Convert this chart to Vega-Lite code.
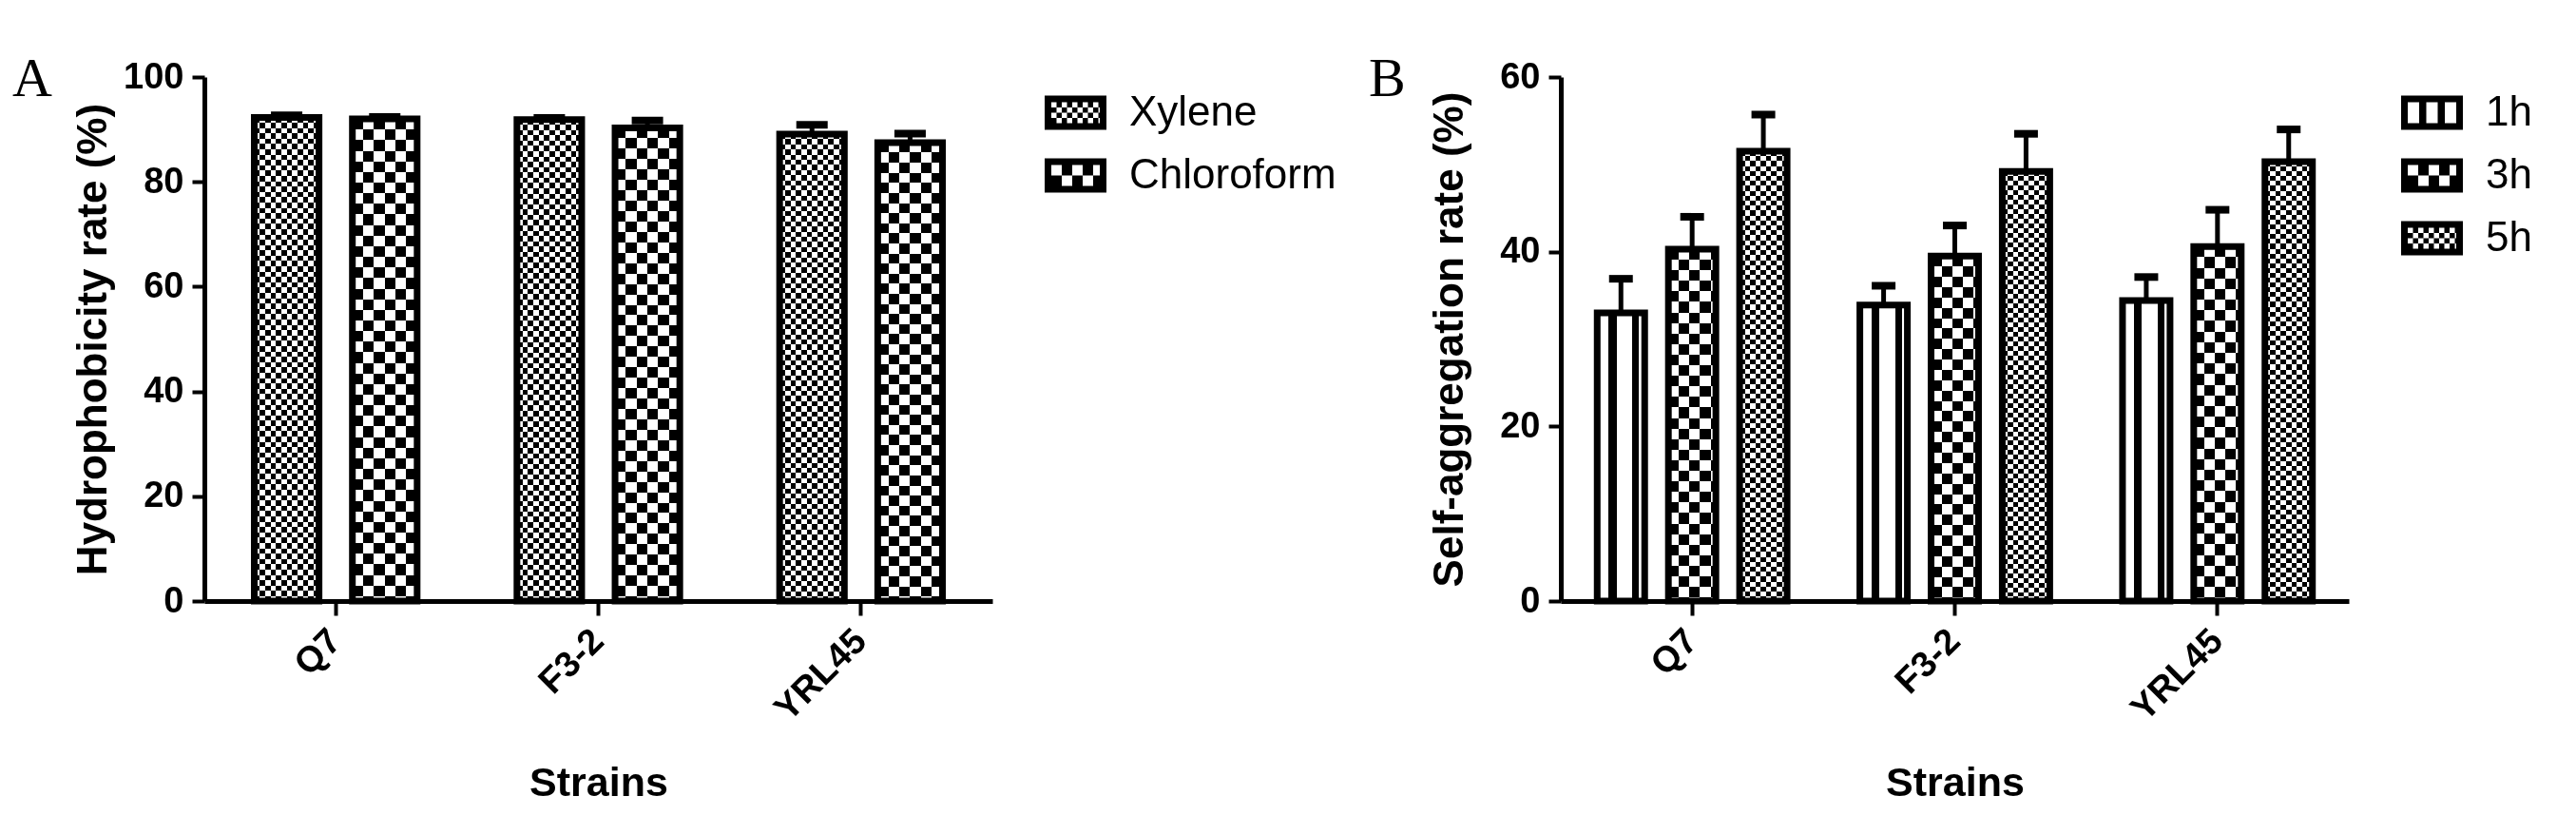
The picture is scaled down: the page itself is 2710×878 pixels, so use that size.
{
"$schema": "https://vega.github.io/schema/vega-lite/v6.json",
"background": "white",
"padding": {"left": 13, "top": 54, "right": 0, "bottom": 0},
"spacing": 34,
"resolve": {"scale": {"fill": "independent", "xOffset": "independent"}, "legend": {"fill": "independent"}},
"params": [
{"name": "gStripe1h", "value": {"gradient": "linear", "x1": 0, "y1": 0, "x2": 1, "y2": 0, "stops": [
{"offset":0,"color":"#fff"},{"offset":0.24,"color":"#fff"},{"offset":0.24,"color":"#000"},{"offset":0.41,"color":"#000"},{"offset":0.41,"color":"#fff"},{"offset":0.74,"color":"#fff"},{"offset":0.74,"color":"#000"},{"offset":0.88,"color":"#000"},{"offset":0.88,"color":"#fff"},{"offset":1,"color":"#fff"}]}},
{"name": "gFineColsA", "value": {"gradient": "linear", "x1": 0, "y1": 0, "x2": 1, "y2": 0, "stops": [
{"offset":0,"color":"#fff"},{"offset":0.0833,"color":"#fff"},{"offset":0.0833,"color":"#000"},{"offset":0.1667,"color":"#000"},{"offset":0.1667,"color":"#fff"},{"offset":0.25,"color":"#fff"},{"offset":0.25,"color":"#000"},{"offset":0.3333,"color":"#000"},{"offset":0.3333,"color":"#fff"},{"offset":0.4167,"color":"#fff"},{"offset":0.4167,"color":"#000"},{"offset":0.5,"color":"#000"},{"offset":0.5,"color":"#fff"},{"offset":0.5833,"color":"#fff"},{"offset":0.5833,"color":"#000"},{"offset":0.6667,"color":"#000"},{"offset":0.6667,"color":"#fff"},{"offset":0.75,"color":"#fff"},{"offset":0.75,"color":"#000"},{"offset":0.8333,"color":"#000"},{"offset":0.8333,"color":"#fff"},{"offset":0.9167,"color":"#fff"},{"offset":0.9167,"color":"#000"},{"offset":1,"color":"#000"}]}},
{"name": "gFineColsB", "value": {"gradient": "linear", "x1": 0, "y1": 0, "x2": 1, "y2": 0, "stops": [
{"offset":0,"color":"#fff"},{"offset":0.1111,"color":"#fff"},{"offset":0.1111,"color":"#000"},{"offset":0.2222,"color":"#000"},{"offset":0.2222,"color":"#fff"},{"offset":0.3333,"color":"#fff"},{"offset":0.3333,"color":"#000"},{"offset":0.4444,"color":"#000"},{"offset":0.4444,"color":"#fff"},{"offset":0.5556,"color":"#fff"},{"offset":0.5556,"color":"#000"},{"offset":0.6667,"color":"#000"},{"offset":0.6667,"color":"#fff"},{"offset":0.7778,"color":"#fff"},{"offset":0.7778,"color":"#000"},{"offset":0.8889,"color":"#000"},{"offset":0.8889,"color":"#fff"},{"offset":1,"color":"#fff"}]}},
{"name": "gCoarseColsA", "value": {"gradient": "linear", "x1": 0, "y1": 0, "x2": 1, "y2": 0, "stops": [
{"offset":0,"color":"#fff"},{"offset":0.1667,"color":"#fff"},{"offset":0.1667,"color":"#000"},{"offset":0.3333,"color":"#000"},{"offset":0.3333,"color":"#fff"},{"offset":0.5,"color":"#fff"},{"offset":0.5,"color":"#000"},{"offset":0.6667,"color":"#000"},{"offset":0.6667,"color":"#fff"},{"offset":0.8333,"color":"#fff"},{"offset":0.8333,"color":"#000"},{"offset":1,"color":"#000"}]}},
{"name": "gCoarseColsB", "value": {"gradient": "linear", "x1": 0, "y1": 0, "x2": 1, "y2": 0, "stops": [
{"offset":0,"color":"#fff"},{"offset":0.2222,"color":"#fff"},{"offset":0.2222,"color":"#000"},{"offset":0.4444,"color":"#000"},{"offset":0.4444,"color":"#fff"},{"offset":0.6667,"color":"#fff"},{"offset":0.6667,"color":"#000"},{"offset":0.8889,"color":"#000"},{"offset":0.8889,"color":"#fff"},{"offset":1,"color":"#fff"}]}},
{"name": "gFineRows", "value": {"gradient": "linear", "x1": 0, "y1": 0, "x2": 0, "y2": 1, "stops": [
{"offset":0,"color":"#fff"},{"offset":0.011,"color":"#fff"},{"offset":0.011,"color":"#000"},{"offset":0.022,"color":"#000"},{"offset":0.022,"color":"#fff"},{"offset":0.033,"color":"#fff"},{"offset":0.033,"color":"#000"},{"offset":0.044,"color":"#000"},{"offset":0.044,"color":"#fff"},{"offset":0.055,"color":"#fff"},{"offset":0.055,"color":"#000"},{"offset":0.066,"color":"#000"},{"offset":0.066,"color":"#fff"},{"offset":0.077,"color":"#fff"},{"offset":0.077,"color":"#000"},{"offset":0.088,"color":"#000"},{"offset":0.088,"color":"#fff"},{"offset":0.099,"color":"#fff"},{"offset":0.099,"color":"#000"},{"offset":0.11,"color":"#000"},{"offset":0.11,"color":"#fff"},{"offset":0.121,"color":"#fff"},{"offset":0.121,"color":"#000"},{"offset":0.132,"color":"#000"},{"offset":0.132,"color":"#fff"},{"offset":0.143,"color":"#fff"},{"offset":0.143,"color":"#000"},{"offset":0.154,"color":"#000"},{"offset":0.154,"color":"#fff"},{"offset":0.165,"color":"#fff"},{"offset":0.165,"color":"#000"},{"offset":0.176,"color":"#000"},{"offset":0.176,"color":"#fff"},{"offset":0.187,"color":"#fff"},{"offset":0.187,"color":"#000"},{"offset":0.198,"color":"#000"},{"offset":0.198,"color":"#fff"},{"offset":0.209,"color":"#fff"},{"offset":0.209,"color":"#000"},{"offset":0.22,"color":"#000"},{"offset":0.22,"color":"#fff"},{"offset":0.231,"color":"#fff"},{"offset":0.231,"color":"#000"},{"offset":0.242,"color":"#000"},{"offset":0.242,"color":"#fff"},{"offset":0.253,"color":"#fff"},{"offset":0.253,"color":"#000"},{"offset":0.264,"color":"#000"},{"offset":0.264,"color":"#fff"},{"offset":0.275,"color":"#fff"},{"offset":0.275,"color":"#000"},{"offset":0.286,"color":"#000"},{"offset":0.286,"color":"#fff"},{"offset":0.297,"color":"#fff"},{"offset":0.297,"color":"#000"},{"offset":0.308,"color":"#000"},{"offset":0.308,"color":"#fff"},{"offset":0.319,"color":"#fff"},{"offset":0.319,"color":"#000"},{"offset":0.33,"color":"#000"},{"offset":0.33,"color":"#fff"},{"offset":0.341,"color":"#fff"},{"offset":0.341,"color":"#000"},{"offset":0.352,"color":"#000"},{"offset":0.352,"color":"#fff"},{"offset":0.363,"color":"#fff"},{"offset":0.363,"color":"#000"},{"offset":0.374,"color":"#000"},{"offset":0.374,"color":"#fff"},{"offset":0.385,"color":"#fff"},{"offset":0.385,"color":"#000"},{"offset":0.396,"color":"#000"},{"offset":0.396,"color":"#fff"},{"offset":0.407,"color":"#fff"},{"offset":0.407,"color":"#000"},{"offset":0.418,"color":"#000"},{"offset":0.418,"color":"#fff"},{"offset":0.429,"color":"#fff"},{"offset":0.429,"color":"#000"},{"offset":0.44,"color":"#000"},{"offset":0.44,"color":"#fff"},{"offset":0.451,"color":"#fff"},{"offset":0.451,"color":"#000"},{"offset":0.462,"color":"#000"},{"offset":0.462,"color":"#fff"},{"offset":0.473,"color":"#fff"},{"offset":0.473,"color":"#000"},{"offset":0.484,"color":"#000"},{"offset":0.484,"color":"#fff"},{"offset":0.495,"color":"#fff"},{"offset":0.495,"color":"#000"},{"offset":0.506,"color":"#000"},{"offset":0.506,"color":"#fff"},{"offset":0.517,"color":"#fff"},{"offset":0.517,"color":"#000"},{"offset":0.528,"color":"#000"},{"offset":0.528,"color":"#fff"},{"offset":0.539,"color":"#fff"},{"offset":0.539,"color":"#000"},{"offset":0.55,"color":"#000"},{"offset":0.55,"color":"#fff"},{"offset":0.561,"color":"#fff"},{"offset":0.561,"color":"#000"},{"offset":0.572,"color":"#000"},{"offset":0.572,"color":"#fff"},{"offset":0.583,"color":"#fff"},{"offset":0.583,"color":"#000"},{"offset":0.594,"color":"#000"},{"offset":0.594,"color":"#fff"},{"offset":0.605,"color":"#fff"},{"offset":0.605,"color":"#000"},{"offset":0.616,"color":"#000"},{"offset":0.616,"color":"#fff"},{"offset":0.627,"color":"#fff"},{"offset":0.627,"color":"#000"},{"offset":0.638,"color":"#000"},{"offset":0.638,"color":"#fff"},{"offset":0.649,"color":"#fff"},{"offset":0.649,"color":"#000"},{"offset":0.66,"color":"#000"},{"offset":0.66,"color":"#fff"},{"offset":0.671,"color":"#fff"},{"offset":0.671,"color":"#000"},{"offset":0.682,"color":"#000"},{"offset":0.682,"color":"#fff"},{"offset":0.693,"color":"#fff"},{"offset":0.693,"color":"#000"},{"offset":0.704,"color":"#000"},{"offset":0.704,"color":"#fff"},{"offset":0.715,"color":"#fff"},{"offset":0.715,"color":"#000"},{"offset":0.726,"color":"#000"},{"offset":0.726,"color":"#fff"},{"offset":0.737,"color":"#fff"},{"offset":0.737,"color":"#000"},{"offset":0.748,"color":"#000"},{"offset":0.748,"color":"#fff"},{"offset":0.759,"color":"#fff"},{"offset":0.759,"color":"#000"},{"offset":0.77,"color":"#000"},{"offset":0.77,"color":"#fff"},{"offset":0.781,"color":"#fff"},{"offset":0.781,"color":"#000"},{"offset":0.792,"color":"#000"},{"offset":0.792,"color":"#fff"},{"offset":0.803,"color":"#fff"},{"offset":0.803,"color":"#000"},{"offset":0.814,"color":"#000"},{"offset":0.814,"color":"#fff"},{"offset":0.825,"color":"#fff"},{"offset":0.825,"color":"#000"},{"offset":0.836,"color":"#000"},{"offset":0.836,"color":"#fff"},{"offset":0.847,"color":"#fff"},{"offset":0.847,"color":"#000"},{"offset":0.858,"color":"#000"},{"offset":0.858,"color":"#fff"},{"offset":0.869,"color":"#fff"},{"offset":0.869,"color":"#000"},{"offset":0.88,"color":"#000"},{"offset":0.88,"color":"#fff"},{"offset":0.891,"color":"#fff"},{"offset":0.891,"color":"#000"},{"offset":0.902,"color":"#000"},{"offset":0.902,"color":"#fff"},{"offset":0.913,"color":"#fff"},{"offset":0.913,"color":"#000"},{"offset":0.924,"color":"#000"},{"offset":0.924,"color":"#fff"},{"offset":0.935,"color":"#fff"},{"offset":0.935,"color":"#000"},{"offset":0.946,"color":"#000"},{"offset":0.946,"color":"#fff"},{"offset":0.957,"color":"#fff"},{"offset":0.957,"color":"#000"},{"offset":0.968,"color":"#000"},{"offset":0.968,"color":"#fff"},{"offset":0.979,"color":"#fff"},{"offset":0.979,"color":"#000"},{"offset":0.99,"color":"#000"},{"offset":0.99,"color":"#fff"},{"offset":1,"color":"#fff"}]}},
{"name": "gCoarseRowsA", "value": {"gradient": "linear", "x1": 0, "y1": 0, "x2": 0, "y2": 1, "stops": [
{"offset":0,"color":"#fff"},{"offset":0.022,"color":"#fff"},{"offset":0.022,"color":"#000"},{"offset":0.044,"color":"#000"},{"offset":0.044,"color":"#fff"},{"offset":0.066,"color":"#fff"},{"offset":0.066,"color":"#000"},{"offset":0.088,"color":"#000"},{"offset":0.088,"color":"#fff"},{"offset":0.11,"color":"#fff"},{"offset":0.11,"color":"#000"},{"offset":0.132,"color":"#000"},{"offset":0.132,"color":"#fff"},{"offset":0.154,"color":"#fff"},{"offset":0.154,"color":"#000"},{"offset":0.176,"color":"#000"},{"offset":0.176,"color":"#fff"},{"offset":0.198,"color":"#fff"},{"offset":0.198,"color":"#000"},{"offset":0.22,"color":"#000"},{"offset":0.22,"color":"#fff"},{"offset":0.242,"color":"#fff"},{"offset":0.242,"color":"#000"},{"offset":0.264,"color":"#000"},{"offset":0.264,"color":"#fff"},{"offset":0.286,"color":"#fff"},{"offset":0.286,"color":"#000"},{"offset":0.308,"color":"#000"},{"offset":0.308,"color":"#fff"},{"offset":0.33,"color":"#fff"},{"offset":0.33,"color":"#000"},{"offset":0.352,"color":"#000"},{"offset":0.352,"color":"#fff"},{"offset":0.374,"color":"#fff"},{"offset":0.374,"color":"#000"},{"offset":0.396,"color":"#000"},{"offset":0.396,"color":"#fff"},{"offset":0.418,"color":"#fff"},{"offset":0.418,"color":"#000"},{"offset":0.44,"color":"#000"},{"offset":0.44,"color":"#fff"},{"offset":0.462,"color":"#fff"},{"offset":0.462,"color":"#000"},{"offset":0.484,"color":"#000"},{"offset":0.484,"color":"#fff"},{"offset":0.506,"color":"#fff"},{"offset":0.506,"color":"#000"},{"offset":0.528,"color":"#000"},{"offset":0.528,"color":"#fff"},{"offset":0.55,"color":"#fff"},{"offset":0.55,"color":"#000"},{"offset":0.572,"color":"#000"},{"offset":0.572,"color":"#fff"},{"offset":0.594,"color":"#fff"},{"offset":0.594,"color":"#000"},{"offset":0.616,"color":"#000"},{"offset":0.616,"color":"#fff"},{"offset":0.638,"color":"#fff"},{"offset":0.638,"color":"#000"},{"offset":0.66,"color":"#000"},{"offset":0.66,"color":"#fff"},{"offset":0.682,"color":"#fff"},{"offset":0.682,"color":"#000"},{"offset":0.704,"color":"#000"},{"offset":0.704,"color":"#fff"},{"offset":0.726,"color":"#fff"},{"offset":0.726,"color":"#000"},{"offset":0.748,"color":"#000"},{"offset":0.748,"color":"#fff"},{"offset":0.77,"color":"#fff"},{"offset":0.77,"color":"#000"},{"offset":0.792,"color":"#000"},{"offset":0.792,"color":"#fff"},{"offset":0.814,"color":"#fff"},{"offset":0.814,"color":"#000"},{"offset":0.836,"color":"#000"},{"offset":0.836,"color":"#fff"},{"offset":0.858,"color":"#fff"},{"offset":0.858,"color":"#000"},{"offset":0.88,"color":"#000"},{"offset":0.88,"color":"#fff"},{"offset":0.902,"color":"#fff"},{"offset":0.902,"color":"#000"},{"offset":0.924,"color":"#000"},{"offset":0.924,"color":"#fff"},{"offset":0.946,"color":"#fff"},{"offset":0.946,"color":"#000"},{"offset":0.968,"color":"#000"},{"offset":0.968,"color":"#fff"},{"offset":0.99,"color":"#fff"},{"offset":0.99,"color":"#000"},{"offset":1,"color":"#000"}]}},
{"name": "gCoarseRowsB", "value": {"gradient": "linear", "x1": 0, "y1": 0, "x2": 0, "y2": 1, "stops": [
{"offset":0,"color":"#fff"},{"offset":0.03,"color":"#fff"},{"offset":0.03,"color":"#000"},{"offset":0.06,"color":"#000"},{"offset":0.06,"color":"#fff"},{"offset":0.09,"color":"#fff"},{"offset":0.09,"color":"#000"},{"offset":0.12,"color":"#000"},{"offset":0.12,"color":"#fff"},{"offset":0.15,"color":"#fff"},{"offset":0.15,"color":"#000"},{"offset":0.18,"color":"#000"},{"offset":0.18,"color":"#fff"},{"offset":0.21,"color":"#fff"},{"offset":0.21,"color":"#000"},{"offset":0.24,"color":"#000"},{"offset":0.24,"color":"#fff"},{"offset":0.27,"color":"#fff"},{"offset":0.27,"color":"#000"},{"offset":0.3,"color":"#000"},{"offset":0.3,"color":"#fff"},{"offset":0.33,"color":"#fff"},{"offset":0.33,"color":"#000"},{"offset":0.36,"color":"#000"},{"offset":0.36,"color":"#fff"},{"offset":0.39,"color":"#fff"},{"offset":0.39,"color":"#000"},{"offset":0.42,"color":"#000"},{"offset":0.42,"color":"#fff"},{"offset":0.45,"color":"#fff"},{"offset":0.45,"color":"#000"},{"offset":0.48,"color":"#000"},{"offset":0.48,"color":"#fff"},{"offset":0.51,"color":"#fff"},{"offset":0.51,"color":"#000"},{"offset":0.54,"color":"#000"},{"offset":0.54,"color":"#fff"},{"offset":0.57,"color":"#fff"},{"offset":0.57,"color":"#000"},{"offset":0.6,"color":"#000"},{"offset":0.6,"color":"#fff"},{"offset":0.63,"color":"#fff"},{"offset":0.63,"color":"#000"},{"offset":0.66,"color":"#000"},{"offset":0.66,"color":"#fff"},{"offset":0.69,"color":"#fff"},{"offset":0.69,"color":"#000"},{"offset":0.72,"color":"#000"},{"offset":0.72,"color":"#fff"},{"offset":0.75,"color":"#fff"},{"offset":0.75,"color":"#000"},{"offset":0.78,"color":"#000"},{"offset":0.78,"color":"#fff"},{"offset":0.81,"color":"#fff"},{"offset":0.81,"color":"#000"},{"offset":0.84,"color":"#000"},{"offset":0.84,"color":"#fff"},{"offset":0.87,"color":"#fff"},{"offset":0.87,"color":"#000"},{"offset":0.9,"color":"#000"},{"offset":0.9,"color":"#fff"},{"offset":0.93,"color":"#fff"},{"offset":0.93,"color":"#000"},{"offset":0.96,"color":"#000"},{"offset":0.96,"color":"#fff"},{"offset":0.99,"color":"#fff"},{"offset":0.99,"color":"#000"},{"offset":1,"color":"#000"}]}}
],
"config": {
"view": {"stroke": null},
"axis": {"domainColor": "black", "domainWidth": 5, "tickColor": "black", "tickWidth": 4, "labelFont": "Liberation Sans", "labelFontWeight": "bold", "labelFontSize": 38, "labelColor": "black", "titleFont": "Liberation Sans", "titleFontWeight": "bold", "titleFontSize": 44, "titleColor": "black", "grid": false},
"title": {"font": "Liberation Serif", "fontSize": 58, "fontWeight": "normal", "color": "black", "anchor": "start", "frame": "group", "dx": -202, "dy": 54.5, "baseline": "alphabetic", "offset": 0}
},
"hconcat": [
{
"width": 829, "height": 551,
"title": {"text": "A"},
"data": {"values": [
{"strain": "Q7", "solvent": "Xylene", "value": 92.3, "upper": 92.7},
{"strain": "Q7", "solvent": "Chloroform", "value": 92.0, "upper": 92.4},
{"strain": "F3-2", "solvent": "Xylene", "value": 91.9, "upper": 92.2},
{"strain": "F3-2", "solvent": "Chloroform", "value": 90.3, "upper": 91.7},
{"strain": "YRL45", "solvent": "Xylene", "value": 89.1, "upper": 90.9},
{"strain": "YRL45", "solvent": "Chloroform", "value": 87.5, "upper": 89.2}
]},
"encoding": {
"x": {"field": "strain", "type": "nominal", "sort": ["Q7", "F3-2", "YRL45"], "scale": {"paddingInner": 0.38, "paddingOuter": 0.19}, "axis": {"title": "Strains", "titleFontSize": 43, "labelAngle": -45, "labelBaseline": "middle", "labelAlign": "right", "tickSize": 15, "labelPadding": 21, "titlePadding": 37}},
"xOffset": {"field": "solvent", "type": "nominal", "sort": ["Xylene", "Chloroform"], "scale": {"paddingInner": 0.34, "paddingOuter": 0}}
},
"layer": [
{"mark": {"type": "bar", "opacity": 0}, "encoding": {
"y": {"field": "value", "type": "quantitative", "title": "Hydrophobicity rate (%)", "scale": {"domain": [0, 100], "nice": false}, "axis": {"values": [0, 20, 40, 60, 80, 100], "tickSize": 13, "labelPadding": 9, "titlePadding": 9}},
"fill": {"field": "solvent", "type": "nominal", "sort": ["Xylene", "Chloroform"], "scale": {"domain": ["Xylene", "Chloroform"], "range": ["black", "black"]},
"legend": {"orient": "none", "legendX": 884, "legendY": 5, "title": null, "symbolType": "M-1,-0.5H1V0.5H-1Z", "symbolSize": 3364, "symbolStrokeColor": "transparent", "symbolStrokeWidth": 7, "symbolOpacity": 1, "symbolFillColor": "black", "labelFont": "Liberation Sans", "labelFontSize": 44, "labelFontWeight": "normal", "labelColor": "black", "labelLimit": 0, "labelOffset": 24, "rowPadding": 1, "padding": 0,
"encode": {"symbols": {"update": {
"shape": {"signal": "datum.value === 'Xylene' ? 'M-1.1207,-0.6207H1.1207V0.6207H-1.1207Z M-0.8793,-0.3793V0.3793H0.8793V-0.3793Z M-0.8793,-0.1897H0.8793V0H-0.8793Z M-0.8793,0.1897H0.8793V0.3793H-0.8793Z M-0.6897,-0.3793V0.3793H-0.5V-0.3793Z M-0.3103,-0.3793V0.3793H-0.1207V-0.3793Z M0.069,-0.3793V0.3793H0.2586V-0.3793Z M0.4483,-0.3793V0.3793H0.6379V-0.3793Z M0.8276,-0.3793V0.3793H0.8793V-0.3793Z' : 'M-1.1207,-0.6207H1.1207V0.6207H-1.1207Z M-0.8793,-0.3793V0.3793H0.8793V-0.3793Z M-0.8793,0H0.8793V0.3793H-0.8793Z M-0.5,-0.3793V0.3793H-0.1207V-0.3793Z M0.2586,-0.3793V0.3793H0.6379V-0.3793Z'"},
"stroke": {"value": "transparent"}, "opacity": {"value": 1}}}}}}
}},
{"mark": {"type": "bar"}, "encoding": {
"y": {"field": "value", "type": "quantitative", "title": "Hydrophobicity rate (%)", "scale": {"domain": [0, 100], "nice": false}},
"fill": {"condition": {"test": "datum.solvent === 'Xylene'", "value": {"expr": "gFineRows"}}, "value": {"expr": "gCoarseRowsA"}}
}},
{"mark": {"type": "bar", "blend": "difference"}, "encoding": {
"y": {"field": "value", "type": "quantitative", "title": "Hydrophobicity rate (%)", "scale": {"domain": [0, 100], "nice": false}},
"fill": {"condition": {"test": "datum.solvent === 'Xylene'", "value": {"expr": "gFineColsA"}}, "value": {"expr": "gCoarseColsA"}}
}},
{"mark": {"type": "bar", "fill": "transparent", "stroke": "black", "strokeWidth": 7}, "encoding": {
"y": {"field": "value", "type": "quantitative", "title": "Hydrophobicity rate (%)", "scale": {"domain": [0, 100], "nice": false}}
}},
{"mark": {"type": "rule", "color": "black", "strokeWidth": 5}, "encoding": {
"y": {"field": "value", "type": "quantitative", "title": "Hydrophobicity rate (%)", "scale": {"domain": [0, 100], "nice": false}},
"y2": {"field": "upper"}
}},
{"mark": {"type": "tick", "orient": "horizontal", "color": "black", "opacity": 1, "size": 33, "thickness": 8}, "encoding": {
"y": {"field": "upper", "type": "quantitative", "title": "Hydrophobicity rate (%)", "scale": {"domain": [0, 100], "nice": false}}
}}
]
},
{
"width": 829, "height": 551,
"title": {"text": "B"},
"data": {"values": [
{"strain": "Q7", "time": "1h", "value": 33.0, "upper": 36.9},
{"strain": "Q7", "time": "3h", "value": 40.3, "upper": 44.0},
{"strain": "Q7", "time": "5h", "value": 51.5, "upper": 55.7},
{"strain": "F3-2", "time": "1h", "value": 33.9, "upper": 36.1},
{"strain": "F3-2", "time": "3h", "value": 39.5, "upper": 43.0},
{"strain": "F3-2", "time": "5h", "value": 49.2, "upper": 53.5},
{"strain": "YRL45", "time": "1h", "value": 34.4, "upper": 37.1},
{"strain": "YRL45", "time": "3h", "value": 40.6, "upper": 44.8},
{"strain": "YRL45", "time": "5h", "value": 50.3, "upper": 54.0}
]},
"encoding": {
"x": {"field": "strain", "type": "nominal", "sort": ["Q7", "F3-2", "YRL45"], "scale": {"paddingInner": 0.277, "paddingOuter": 0.1385}, "axis": {"title": "Strains", "titleFontSize": 43, "labelAngle": -45, "labelBaseline": "middle", "labelAlign": "right", "tickSize": 15, "labelPadding": 21, "titlePadding": 37}},
"xOffset": {"field": "time", "type": "nominal", "sort": ["1h", "3h", "5h"], "scale": {"paddingInner": 0.333, "paddingOuter": 0}}
},
"layer": [
{"mark": {"type": "bar", "opacity": 0}, "encoding": {
"y": {"field": "value", "type": "quantitative", "title": "Self-aggregation rate (%)", "scale": {"domain": [0, 60], "nice": false}, "axis": {"values": [0, 20, 40, 60], "tickSize": 13, "labelPadding": 9, "titlePadding": 30}},
"fill": {"field": "time", "type": "nominal", "sort": ["1h", "3h", "5h"], "scale": {"domain": ["1h", "3h", "5h"], "range": ["black", "black", "black"]},
"legend": {"orient": "none", "legendX": 884, "legendY": 5, "title": null, "symbolType": "M-1,-0.5H1V0.5H-1Z", "symbolSize": 3364, "symbolStrokeColor": "transparent", "symbolStrokeWidth": 7, "symbolOpacity": 1, "symbolFillColor": "black", "labelFont": "Liberation Sans", "labelFontSize": 44, "labelFontWeight": "normal", "labelColor": "black", "labelLimit": 0, "labelOffset": 24, "rowPadding": 1, "padding": 0,
"encode": {"symbols": {"update": {
"shape": {"signal": "datum.value === '1h' ? 'M-1.1207,-0.6207H1.1207V0.6207H-1.1207Z M-0.8793,-0.3793V0.3793H0.8793V-0.3793Z M-0.4655,-0.3793H-0.2069V0.3793H-0.4655Z M0.2069,-0.3793H0.4655V0.3793H0.2069Z' : datum.value === '3h' ? 'M-1.1207,-0.6207H1.1207V0.6207H-1.1207Z M-0.8793,-0.3793V0.3793H0.8793V-0.3793Z M-0.8793,0H0.8793V0.3793H-0.8793Z M-0.5,-0.3793V0.3793H-0.1207V-0.3793Z M0.2586,-0.3793V0.3793H0.6379V-0.3793Z' : 'M-1.1207,-0.6207H1.1207V0.6207H-1.1207Z M-0.8793,-0.3793V0.3793H0.8793V-0.3793Z M-0.8793,-0.1897H0.8793V0H-0.8793Z M-0.8793,0.1897H0.8793V0.3793H-0.8793Z M-0.6897,-0.3793V0.3793H-0.5V-0.3793Z M-0.3103,-0.3793V0.3793H-0.1207V-0.3793Z M0.069,-0.3793V0.3793H0.2586V-0.3793Z M0.4483,-0.3793V0.3793H0.6379V-0.3793Z M0.8276,-0.3793V0.3793H0.8793V-0.3793Z'"},
"stroke": {"value": "transparent"}, "opacity": {"value": 1}}}}}}
}},
{"mark": {"type": "bar"}, "encoding": {
"y": {"field": "value", "type": "quantitative", "title": "Self-aggregation rate (%)", "scale": {"domain": [0, 60], "nice": false}},
"fill": {"condition": [{"test": "datum.time === '1h'", "value": {"expr": "gStripe1h"}}, {"test": "datum.time === '3h'", "value": {"expr": "gCoarseRowsB"}}], "value": {"expr": "gFineRows"}}
}},
{"mark": {"type": "bar", "blend": "difference"}, "encoding": {
"y": {"field": "value", "type": "quantitative", "title": "Self-aggregation rate (%)", "scale": {"domain": [0, 60], "nice": false}},
"fill": {"condition": [{"test": "datum.time === '1h'", "value": "black"}, {"test": "datum.time === '3h'", "value": {"expr": "gCoarseColsB"}}], "value": {"expr": "gFineColsB"}}
}},
{"mark": {"type": "bar", "fill": "transparent", "stroke": "black", "strokeWidth": 7}, "encoding": {
"y": {"field": "value", "type": "quantitative", "title": "Self-aggregation rate (%)", "scale": {"domain": [0, 60], "nice": false}}
}},
{"mark": {"type": "rule", "color": "black", "strokeWidth": 5}, "encoding": {
"y": {"field": "value", "type": "quantitative", "title": "Self-aggregation rate (%)", "scale": {"domain": [0, 60], "nice": false}},
"y2": {"field": "upper"}
}},
{"mark": {"type": "tick", "orient": "horizontal", "color": "black", "opacity": 1, "size": 25, "thickness": 8}, "encoding": {
"y": {"field": "upper", "type": "quantitative", "title": "Self-aggregation rate (%)", "scale": {"domain": [0, 60], "nice": false}}
}}
]
}
]
}
